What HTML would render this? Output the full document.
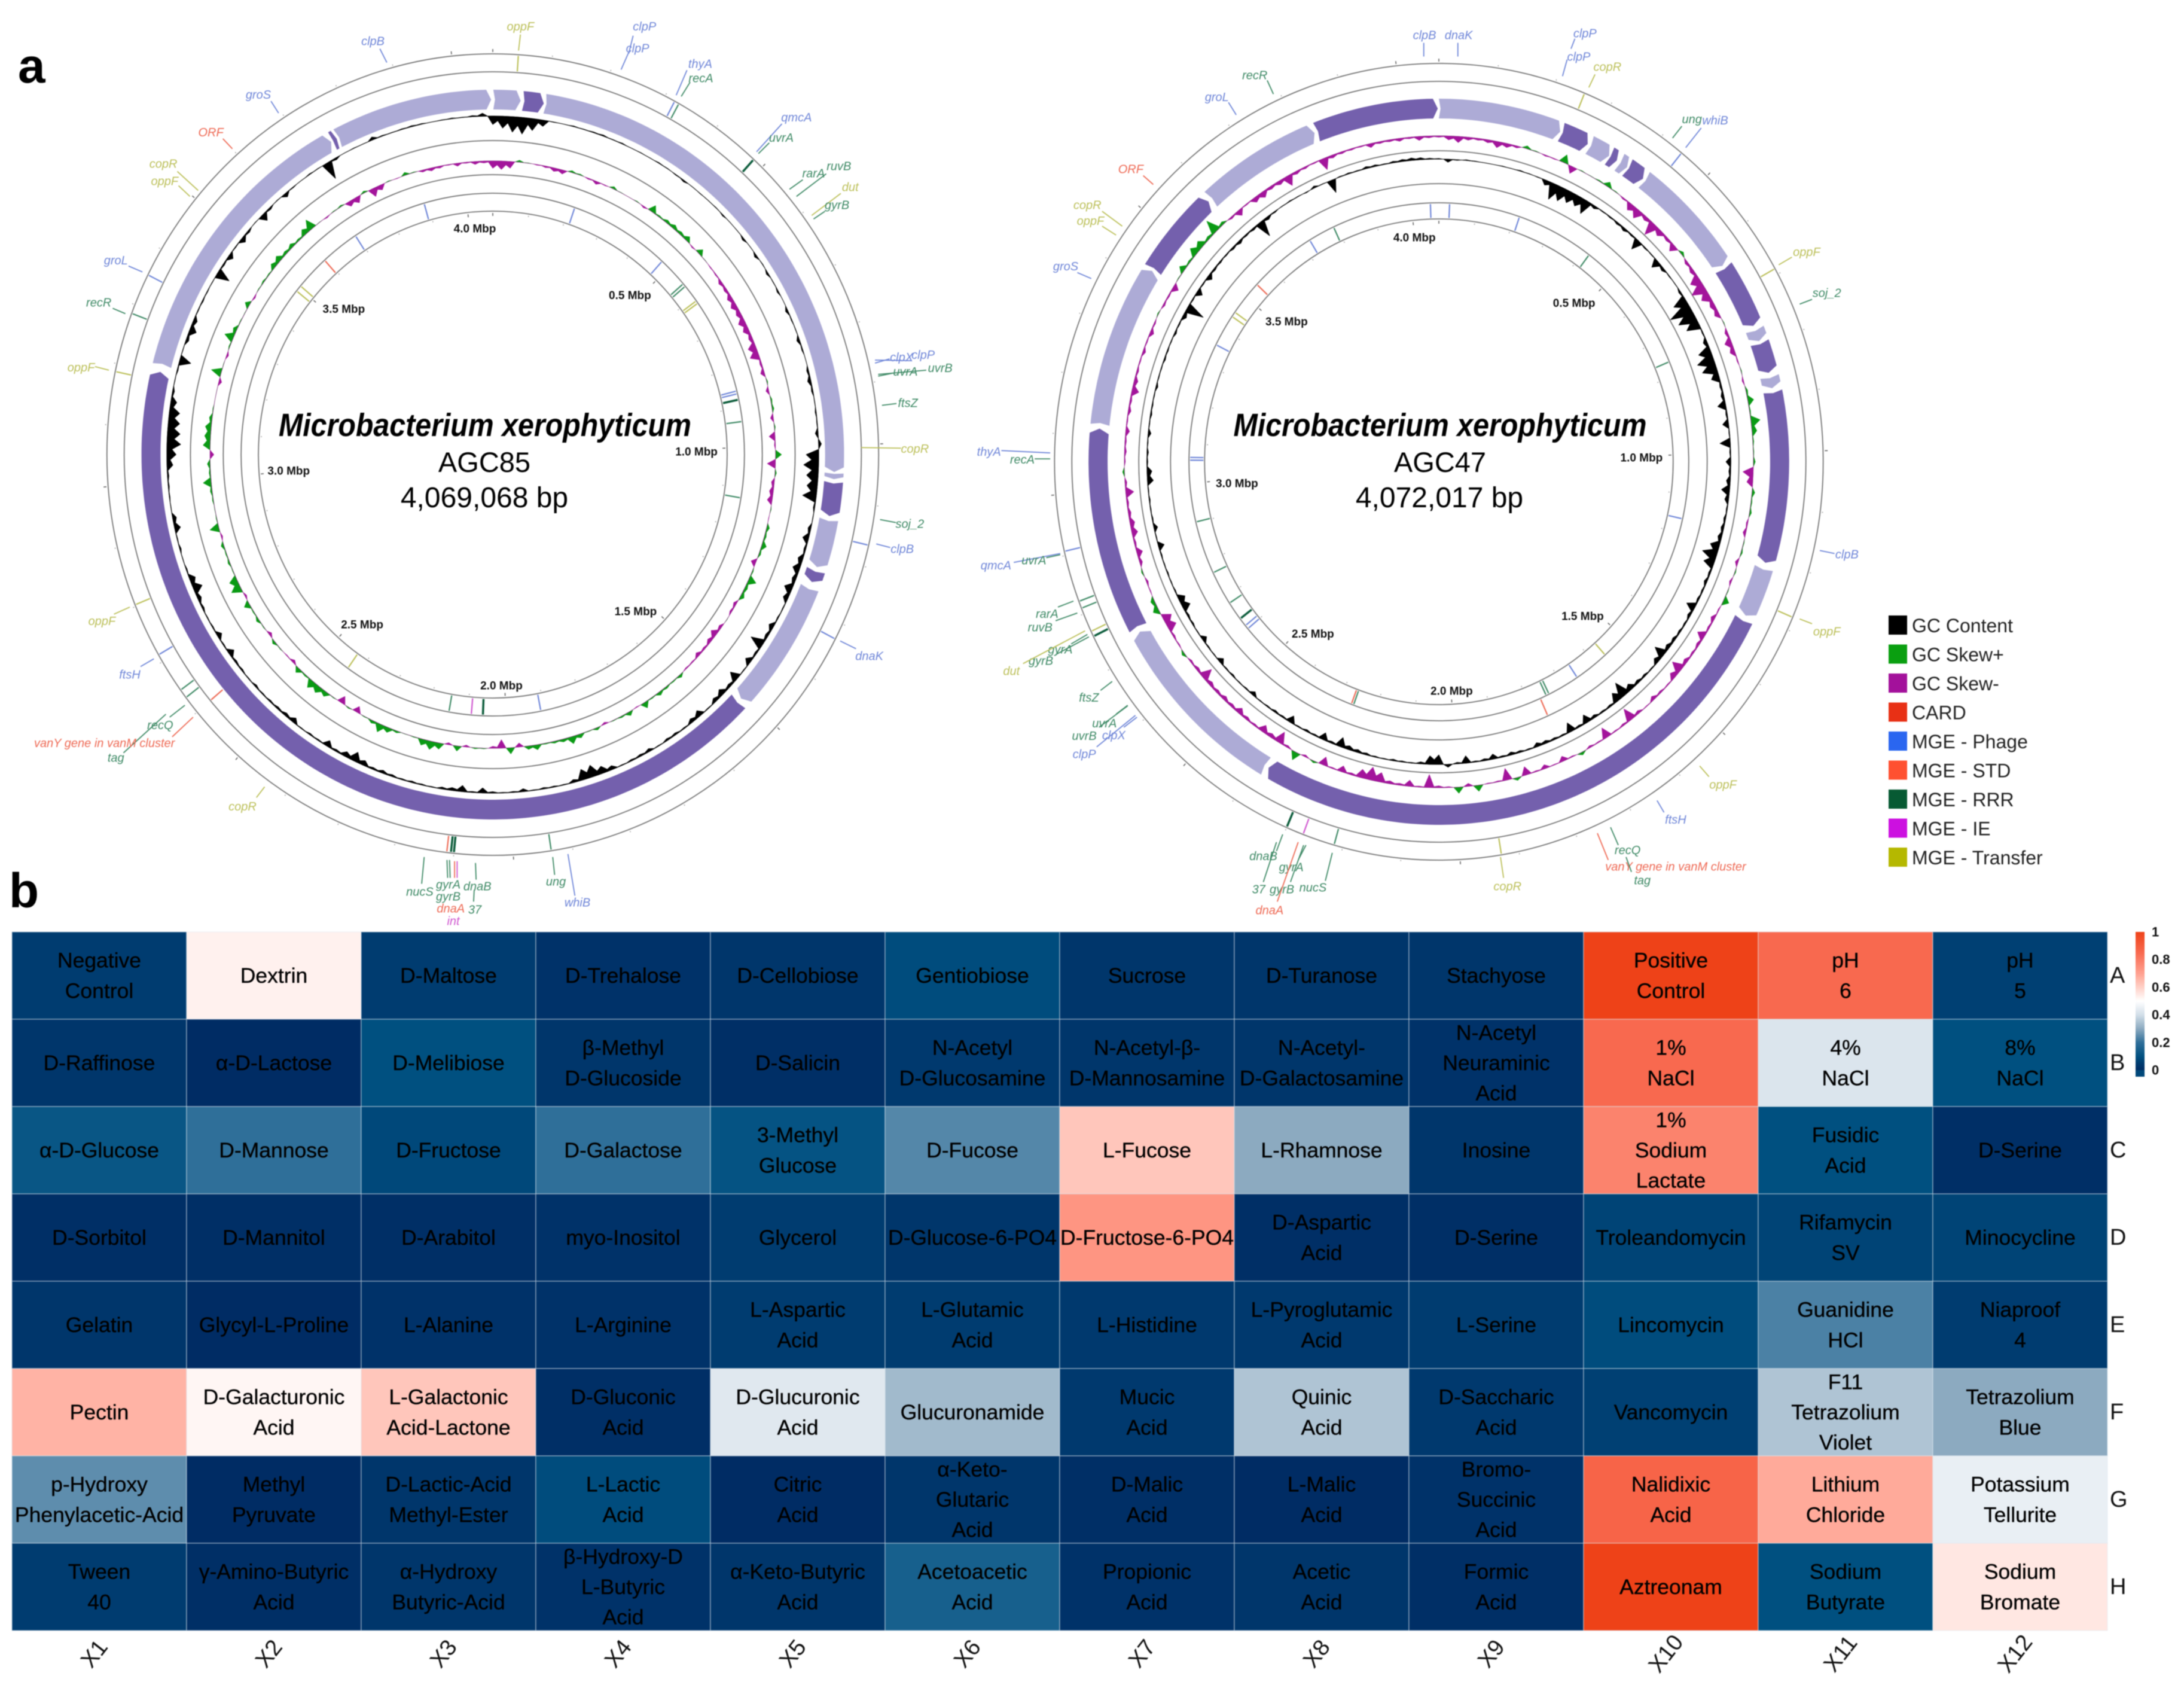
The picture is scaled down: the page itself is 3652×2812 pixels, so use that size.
<!DOCTYPE html>
<html lang="en">
<head>
<meta charset="utf-8">
<title>Microbacterium xerophyticum genome maps and phenotype heatmap</title>
<style>
html,body{margin:0;padding:0;background:#fff;width:3652px;height:2812px;overflow:hidden}
svg{display:block;font-family:"Liberation Sans",sans-serif;filter:blur(0.7px)}
</style>
</head>
<body>
<svg id="fig" xmlns="http://www.w3.org/2000/svg" width="3652" height="2812" viewBox="0 0 3652 2812">
  <text x="30" y="138" font-size="82" font-weight="700">a</text>
  <text x="15" y="1517" font-size="82" font-weight="700">b</text>
  <g id="map1">
    <text x="811" y="729" font-size="54" font-weight="700" font-style="italic" text-anchor="middle" textLength="690" lengthAdjust="spacingAndGlyphs">Microbacterium xerophyticum</text>
    <text x="810" y="789" font-size="47" text-anchor="middle">AGC85</text>
    <text x="810" y="848" font-size="48" text-anchor="middle">4,069,068 bp</text>
  </g>
  <g id="map2">
    <text x="2408" y="729" font-size="54" font-weight="700" font-style="italic" text-anchor="middle" textLength="691" lengthAdjust="spacingAndGlyphs">Microbacterium xerophyticum</text>
    <text x="2408" y="789" font-size="47" text-anchor="middle">AGC47</text>
    <text x="2407" y="848" font-size="48" text-anchor="middle">4,072,017 bp</text>
  </g>
  <g id="legend"></g>
  <g id="heat"></g>
  <g id="cbar"></g>
</svg>
<script>
/* ---------- Genome data: windows are evenly spaced around each chromosome ---------- */
const agc85Length = 4.069068;
const agc47Length = 4.072017;
const agc85MbpTicks = ["0.5 Mbp","1.0 Mbp","1.5 Mbp","2.0 Mbp","2.5 Mbp","3.0 Mbp","3.5 Mbp","4.0 Mbp"];
const agc47MbpTicks = ["0.5 Mbp","1.0 Mbp","1.5 Mbp","2.0 Mbp","2.5 Mbp","3.0 Mbp","3.5 Mbp","4.0 Mbp"];

const agc85GcContent = [
-18,-24,-30,-32,-24,-14,-2,1,3,2,
3,4,2,3,1,2,1,3,2,-3,
-5,1,-2,1,2,-4,1,-1,-6,1,
-7,2,-6,-2,-5,1,-7,-3,-2,-8,
-4,-1,-6,-9,-5,-2,-4,-3,-8,8,
-26,-30,-24,-22,-28,-5,-2,-8,-14,-6,
-12,-16,-10,-18,-12,-3,-4,-12,-8,-28,
-6,-14,-3,-20,-8,-14,-10,-3,-14,-10,
-4,-6,-6,-3,-8,-6,-5,-3,-10,-16,
-24,-22,-8,-3,-4,-5,-3,-8,-4,-3,
-5,-12,-4,-14,-8,-6,-3,-4,-5,-4,
-6,-8,-6,-12,-20,-12,-6,-14,-4,-5,
-3,-12,-8,-6,-5,-4,-6,-3,-5,-6,
-14,-4,-12,-4,-3,-6,-10,-20,-14,-4,
-2,-5,-3,-14,-10,-2,-3,-4,-5,-14,
-20,-28,-26,-24,-22,-14,-6,-2,-4,-24,
-2,-8,-16,-10,-3,-4,-3,-2,-28,-5,
-12,-3,-12,-6,2,-16,-6,2,-10,-3,
1,3,2,-34,-6,1,2,1,8,3,
2,3,4,3,1,2,3,2,4,8];

const agc85GcSkew = [
-16,-18,-15,6,2,-3,-5,-9,-10,6,
4,-4,-8,-3,7,2,1,3,-5,16,
5,8,10,8,12,-4,13,2,-3,-4,
-9,-8,-12,-14,-12,-16,-14,-10,-18,-20,
-6,-10,4,-8,5,6,-8,4,-14,-4,
14,-18,5,-8,-10,-12,3,-2,8,6,
12,6,-12,4,18,8,10,-8,-6,2,
-8,-15,-10,-6,-10,-4,-4,8,4,6,
9,4,14,-3,10,5,3,-6,7,3,
10,16,8,6,4,12,9,-10,14,-18,
-6,3,4,-6,12,-6,14,18,14,3,
2,6,12,18,8,3,-14,4,-16,3,
12,16,18,5,12,-8,-3,3,8,-8,
3,8,4,14,-6,22,18,3,6,4,
8,-5,20,3,2,4,6,18,5,8,
-10,16,14,14,8,3,1,1,-8,22,
2,-6,4,20,10,3,2,12,-5,3,
5,4,12,14,8,10,6,14,22,2,
-4,3,5,-12,-14,6,-18,-12,3,-2,
8,3,-6,-8,-6,-3,-8,-4,-8,-6];

const agc47GcContent = [
3,-8,-3,3,2,1,0,2,1,3,
2,-2,-12,-32,-28,-24,-22,-28,-8,-3,
-4,-6,-8,-5,-22,-4,-3,-18,-8,-3,
-2,-6,-28,-44,-36,-28,-4,-10,-26,-34,
-30,-18,-6,-8,-18,-5,-14,-3,-22,-4,
-12,-6,-10,-18,-10,-4,-6,-8,-10,-20,
-30,-22,-6,-8,-5,-6,-20,-8,-5,-6,
-8,-10,-24,-12,-4,-6,-8,-14,-30,-20,
-6,-5,-8,-18,-6,-20,-5,-6,-8,-10,
-4,-6,-8,-5,-12,-6,-4,-16,-5,8,
-20,-18,-6,-3,-4,-5,-3,-4,-6,-8,
-10,-20,-6,-16,-5,-6,-4,-16,-5,-6,
-4,-3,-10,-4,-3,-5,-4,-12,-3,-4,
-12,-3,-5,-6,-18,-16,-4,-3,-4,-3,
-4,-14,-3,-10,-4,-3,-4,-3,-14,-12,
-4,-5,-3,-8,-3,-5,-4,-3,-6,-3,
-3,-5,-4,-3,-6,-4,-10,-36,-4,-14,
-4,-12,-6,-5,-4,-6,-8,-5,-6,-32,
-8,-4,2,3,2,-3,6,2,-26,3,
4,3,6,5,3,5,6,7,6,4];

const agc47GcSkew = [
-5,-10,-14,-8,-6,-8,-14,-10,-6,8,
3,-4,-3,18,-16,3,2,4,12,3,
-5,-16,-20,-10,-28,-14,-8,-16,8,-8,
-10,-22,-30,-20,-12,-12,3,-8,-16,-12,
-4,3,-5,6,14,4,20,12,4,3,
6,-22,-14,8,4,6,-5,-8,3,5,
-8,4,-6,3,14,-4,-10,-6,-18,-8,
-6,-10,-24,-14,-4,-6,-10,-3,-8,-26,
-6,-4,-22,-4,-6,8,-4,-12,-3,-10,
-4,-18,8,-24,-4,-3,14,-8,14,-4,
-6,-26,-4,-14,-6,-8,-20,-26,-18,-6,
-14,-4,-18,6,-6,18,-6,-24,-10,-16,
-6,-8,-14,-8,-10,-8,-10,-24,-8,-6,
8,-4,-6,-20,-20,14,10,-3,-6,5,
-8,-14,-6,-14,-12,-8,-6,-18,-6,6,
-4,-6,-5,-10,-4,-8,-6,-16,-10,-6,
-4,-8,-4,-10,-5,4,-6,-5,-14,3,
14,6,18,16,8,28,8,-6,-14,-4,
-12,-14,-8,-10,-22,-8,-6,-4,-24,-8,
-6,-5,-4,-10,-6,-6,-8,-5,-10,-6];

/* contig start (Mbp), end (Mbp), shade: 1 = dark, 0 = light */
const agc85ContigStart = [0.001,0.057,0.099,1.051,1.067,1.136,1.232,1.266,1.515,3.216,3.753,3.764];
const agc85ContigEnd   = [0.053,0.097,1.049,1.062,1.130,1.226,1.255,1.508,3.204,3.750,3.762,4.066];
const agc85ContigDark  = [0,1,0,0,1,0,1,0,1,0,1,0];
const agc47ContigStart = [0.000,0.238,0.297,0.340,0.362,0.380,0.419,0.641,0.769,0.795,0.860,0.888,1.216,1.318,2.381,2.737,3.122,3.427,3.597,3.834];
const agc47ContigEnd   = [0.236,0.293,0.339,0.356,0.379,0.416,0.637,0.762,0.792,0.853,0.882,1.206,1.310,2.375,2.729,3.115,3.424,3.591,3.830,4.070];
const agc47ContigDark  = [0,1,0,1,0,1,0,1,0,1,0,1,0,1,0,1,0,1,0,1];

/* annotated features: position (Mbp), track (0 = outer, 1 = gene gap, 2 = ring 1-2, 3 = ring 2-3), class */
const agc85FeaturePos = [0.043,0.318,0.326,0.481,1.165,1.327,1.936,2.100,2.105,2.112,2.630,2.645,2.713,2.803,3.187,3.285,3.353,2.600,
 3.890,0.215,3.695,3.595,3.506,3.490,0.478,0.556,0.564,0.610,0.617,0.858,0.865,0.880,0.935,1.125,1.910,2.432,2.148,2.090,2.060];
const agc85FeatureTrack = [0,0,0,0,0,0,0,0,0,0,0,0,0,0,0,0,0,1,
 2,2,2,2,2,2,2,2,2,2,2,2,2,2,2,2,2,2,2,2,2];
const agc85FeatureClass = ["t","p","r","R","p","p","r","R","R","c","r","r","p","t","t","r","p","c",
 "p","p","p","c","t","t","p","r","r","t","t","p","p","R","r","r","p","t","r","i","R"];

const agc47FeaturePos = [4.050,0.028,0.213,0.418,0.761,3.790,3.720,3.543,3.453,3.440,3.358,3.058,3.065,2.902,2.767,2.680,2.632,2.610,2.600,1.162,1.564,1.656,1.740,1.748,2.262,2.268,
 1.765,2.907,2.822,2.810,2.769,2.760,2.300,2.270,2.215,1.930,0.443,0.252,0.690,1.278];
const agc47FeatureTrack = [2,2,2,2,2,2,2,2,2,2,2,2,2,2,2,2,2,2,2,2,2,2,2,2,2,2,
 3,0,0,0,0,0,0,0,0,0,0,0,0,0];
const agc47FeatureClass = ["p","p","p","r","r","r","p","c","t","t","p","p","p","r","r","r","R","p","p","p","t","p","r","r","r","c",
 "c","p","r","r","t","R","R","i","r","t","p","t","t","t"];

/* gene labels: text, class */
const agc85GeneNames = ["clpB","oppF","clpP","clpP","thyA","recA","qmcA","uvrA","rarA","ruvB","dut","gyrB","clpX","clpP","uvrA","uvrB","ftsZ","copR","soj_2","clpB","dnaK","whiB","ung","dnaB","37","gyrA","gyrB","dnaA","int","nucS","copR","tag","vanY gene in vanM cluster","recQ","ftsH","oppF","oppF","recR","groL","oppF","copR","ORF","groS"];
const agc85GeneClass = ["p","t","p","p","p","r","p","r","r","r","t","r","p","p","r","r","r","t","r","p","p","p","r","r","r","r","r","c","i","r","t","r","c","r","p","t","t","r","p","t","t","c","p"];
const agc47GeneNames = ["clpB","dnaK","clpP","clpP","copR","ung","whiB","oppF","soj_2","clpB","oppF","oppF","ftsH","recQ","vanY gene in vanM cluster","tag","copR","nucS","gyrB","37","dnaB","gyrA","dnaA","ftsZ","uvrA","uvrB","clpX","clpP","gyrA","gyrB","dut","ruvB","rarA","qmcA","uvrA","thyA","recA","groS","oppF","copR","ORF","groL","recR"];
const agc47GeneClass = ["p","p","p","p","t","r","p","t","r","p","t","t","p","r","c","r","t","r","r","r","r","r","c","r","r","r","p","p","r","r","t","r","r","p","r","p","r","p","t","t","c","p","r"];

/* ---------- Layout (not data) ---------- */
const map1Layout = {cx:824,cy:760,k:0.963,rings:[670,640,525,468,437,407],geneOut:610,geneIn:577,gcBase:566,skewBase:491,
  sx:1.0587,sy:0.995,ox:0,oy:0,
  tracks:[[642,668],[612,638],[409,435],[439,466]],
  mbpAt:[[995,497],[1100,760],[1004,1028],[792,1153],[572,1050],[456,792],[543,520],[750,385]],
  textAt:[[589,70],[822,45],[1018,45],[1007,82],[1106,108],[1107,132],[1258,198],[1234,232],[1285,292],[1325,280],[1343,315],[1322,345],[1424,601],[1458,597],[1430,625],[1485,619],[1434,678],[1445,755],[1437,881],[1425,923],[1373,1103],[912,1517],[878,1482],[754,1490],[750,1529],[708,1487],[708,1507],[712,1527],[716,1548],[663,1499],[383,1356],[183,1274],[165,1249],[253,1219],[205,1134],[161,1044],[128,618],[156,509],[183,438],[260,305],[258,276],[333,223],[408,160]],
  leaderAt:[[600,82,611,105],[822,58,819,85],[1000,60,993,90],[993,88,981,117],[1085,118,1068,160],[1090,138,1076,162],[1235,208,1195,255],[1215,240,1198,258],[1268,302,1247,318],[1305,292,1258,330],[1328,325,1282,362],[1303,355,1285,368],[1405,603,1382,610],[1440,606,1382,605],[1410,627,1387,632],[1463,622,1387,629],[1416,678,1393,681],[1423,753,1360,752],[1415,878,1390,873],[1406,920,1384,914],[1352,1090,1327,1077],[908,1505,897,1435],[876,1470,873,1440],[752,1478,751,1450],[748,1515,749,1495],[711,1475,710,1445],[707,1475,706,1445],[718,1475,718,1447],[722,1475,722,1447],[666,1485,670,1440],[405,1340,418,1322],[195,1265,262,1200],[272,1238,305,1205],[268,1205,292,1185],[222,1120,243,1107],[180,1032,205,1020],[150,616,172,622],[178,518,198,527],[203,447,225,457],[282,312,300,330],[280,288,313,320],[352,233,367,250],[428,170,440,190]]
};
const map2Layout = {cx:2406,cy:772,k:0.965,rings:[666,636,520,465,433,406],geneOut:607,geneIn:574,gcBase:506,skewBase:545,
  sx:1.296,sy:0.995,ox:1620,oy:0,
  tracks:[[638,664],[609,634],[408,431],[435,463]],
  mbpAt:[[781,510],[868,770],[792,1036],[623,1162],[444,1066],[346,813],[410,541],[575,400]],
  textAt:[[588,60],[632,60],[795,57],[787,96],[824,113],[933,201],[963,203],[1081,424],[1107,493],[1133,932],[1107,1062],[973,1319],[912,1378],[850,1429],[912,1457],[869,1480],[695,1490],[444,1492],[404,1495],[374,1495],[380,1439],[416,1458],[388,1530],[155,1173],[175,1216],[149,1237],[187,1236],[149,1268],[118,1092],[93,1111],[55,1128],[92,1055],[101,1032],[35,951],[84,942],[26,760],[69,773],[125,448],[157,372],[153,345],[209,285],[320,164],[369,127]],
  leaderAt:[[587,72,587,95],[631,72,631,95],[782,65,777,82],[772,100,766,128],[808,125,800,147],[920,212,908,232],[945,215,925,248],[1062,432,1045,445],[1088,503,1072,511],[1117,930,1098,925],[1088,1048,1072,1040],[955,1305,943,1287],[897,1365,888,1345],[838,1420,828,1390],[825,1445,811,1400],[855,1465,848,1440],[690,1475,686,1440],[460,1480,469,1433],[415,1482,432,1420],[380,1482,397,1415],[397,1430,405,1402],[425,1445,435,1420],[398,1515,425,1415],[170,1160,185,1145],[190,1200,205,1185],[168,1222,205,1186],[200,1222,217,1205],[165,1255,215,1202],[132,1082,153,1066],[112,1100,155,1070],[70,1115,150,1060],[112,1043,140,1030],[115,1020,135,1010],[58,945,118,930],[100,937,118,932],[42,757,105,761],[85,771,105,771],[140,458,158,468],[172,380,190,395],[172,355,198,380],[225,295,238,310],[335,172,345,193],[385,135,393,158]]
};

const classColor = {p:"#6f86d8",r:"#3f8a66",R:"#0d5d3c",t:"#bcc05a",c:"#ee6a55",i:"#cf55cf"};

const NS = "http://www.w3.org/2000/svg";
function mk(parent, tag, attrs, text){
  const el = document.createElementNS(NS, tag);
  for (const key in attrs) el.setAttribute(key, attrs[key]);
  if (text !== undefined) el.textContent = text;
  parent.appendChild(el);
  return el;
}

/* ---------- Genome axis functions ---------- */
function angleOf(mbp, len){ return mbp / len * 2 * Math.PI; }
function polar(L, ry, a){ return [L.cx + ry * L.k * Math.sin(a), L.cy - ry * Math.cos(a)]; }
function f(p){ return p[0].toFixed(1) + " " + p[1].toFixed(1); }

function windowAngle(i, n){ return i / n * 2 * Math.PI; }

/* radial axis: small window values stay close to the baseline, peaks keep their height */
function radial(v){ return v * Math.abs(v) / (Math.abs(v) + 5); }

function areaPath(L, base, vals, pick){
  const n = vals.length;
  const outer = [], inner = [];
  for (let i = 0; i <= n; i++){
    const here = radial(pick(vals[i % n]));
    const next = radial(pick(vals[(i + 1) % n]));
    const a = windowAngle(i, n);
    outer.push(f(polar(L, base + here, a)));
    inner.unshift(f(polar(L, base, a)));
    if (i < n){
      const dip = (Math.abs(here) < Math.abs(next) ? here : next) * 0.55;
      outer.push(f(polar(L, base + dip, windowAngle(i + 0.5, n))));
    }
  }
  return "M" + outer.join("L") + "L" + inner.join("L") + "Z";
}

function contigPath(L, len, s, e){
  const a0 = angleOf(s, len), a1 = angleOf(e, len);
  const span = a1 - a0;
  const tip = Math.min(0.8 * Math.PI / 180, span * 0.4);
  const mid = (L.geneOut + L.geneIn) / 2;
  const pts = [];
  const steps = Math.max(2, Math.ceil(span / (Math.PI / 180)));
  for (let i = 0; i <= steps; i++) pts.push(polar(L, L.geneOut, a0 + (span - tip) * i / steps));
  pts.push(polar(L, mid, a1));
  for (let i = steps; i >= 0; i--) pts.push(polar(L, L.geneIn, a0 + (span - tip) * i / steps));
  pts.push(polar(L, mid, a0 + tip * 0.35));
  return "M" + pts.map(f).join("L") + "Z";
}

function drawMap(root, L, len, gc, skew, cStart, cEnd, cDark, fPos, fTrack, fClass, geneNames, geneClass, mbpTicks, tag){
  /* rings */
  L.rings.forEach(function(r, i){
    const ring = mk(root, "ellipse", {cx:L.cx, cy:L.cy, rx:r * L.k, ry:r, fill:"none", stroke:"#777", "stroke-width":1.8});
    
    
  });
  /* scale ticks every 0.1 Mbp */
  for (let m = 0; m < len - 0.02; m += 0.1){
    const a = angleOf(m, len);
    const major = Math.round(m * 10) % 5 === 0;
    const p1 = polar(L, L.rings[5] - 3, a), p2 = polar(L, L.rings[5] - (major ? 8 : 5), a);
    const t1 = mk(root, "line", {x1:p1[0], y1:p1[1], x2:p2[0], y2:p2[1], stroke:major ? "#666" : "#aaa", "stroke-width":1.6});
    
    
    const p3 = polar(L, L.rings[0] + 3, a), p4 = polar(L, L.rings[0] + (major ? 8 : 5), a);
    const t2 = mk(root, "line", {x1:p3[0], y1:p3[1], x2:p4[0], y2:p4[1], stroke:major ? "#666" : "#aaa", "stroke-width":1.6});
    
    
  }
  /* contigs */
  cStart.forEach(function(s, i){
    const c = mk(root, "path", {d:contigPath(L, len, s, cEnd[i]), fill:cDark[i] ? "#7460ad" : "#adabd6"});
    
    
  });
  /* GC content */
  const gcUp = mk(root, "path", {d:areaPath(L, L.gcBase, gc, function(v){return Math.max(v, 0);}), fill:"#000", stroke:"#000", "stroke-width":0.8, "stroke-linejoin":"round"});
  
  
  const gcDown = mk(root, "path", {d:areaPath(L, L.gcBase, gc, function(v){return Math.min(v, 0);}), fill:"#000", stroke:"#000", "stroke-width":0.8, "stroke-linejoin":"round"});
  
  
  /* GC skew */
  const skPlus = mk(root, "path", {d:areaPath(L, L.skewBase, skew, function(v){return Math.max(v, 0);}), fill:"#0a9a14", stroke:"#0a9a14", "stroke-width":0.6, "stroke-linejoin":"round"});
  
  
  const skMinus = mk(root, "path", {d:areaPath(L, L.skewBase, skew, function(v){return Math.min(v, 0);}), fill:"#a3149b", stroke:"#a3149b", "stroke-width":0.6, "stroke-linejoin":"round"});
  
  
  /* features */
  fPos.forEach(function(m, i){
    const a = angleOf(m, len), tr = L.tracks[fTrack[i]];
    const p1 = polar(L, tr[0], a), p2 = polar(L, tr[1], a);
    const ft = mk(root, "line", {x1:p1[0], y1:p1[1], x2:p2[0], y2:p2[1], stroke:classColor[fClass[i]], "stroke-width":fClass[i] === "R" ? 3.5 : 2.2});
    
    
  });
  /* Mbp labels */
  mbpTicks.forEach(function(t, i){
    const at = L.mbpAt[i];
    const lab = mk(root, "text", {x:L.ox + at[0] * L.sx, y:L.oy + at[1] * L.sy, "font-size":19, "font-weight":700, "text-anchor":"middle", "dominant-baseline":"central", fill:"#111"}, t);
    
    
  });
  /* gene labels & leaders */
  geneNames.forEach(function(name, i){
    const col = classColor[geneClass[i]], at = L.textAt[i], ln = L.leaderAt[i];
    const leader = mk(root, "line", {x1:L.ox + ln[0] * L.sx, y1:L.oy + ln[1] * L.sy, x2:L.ox + ln[2] * L.sx, y2:L.oy + ln[3] * L.sy, stroke:col, "stroke-width":1.8});
    
    
    const lab = mk(root, "text", {x:L.ox + at[0] * L.sx, y:L.oy + at[1] * L.sy, "font-size":20, "font-style":"italic", "text-anchor":"middle", "dominant-baseline":"central", fill:col}, name);
    
    
  });
}

drawMap(document.getElementById("map1"), map1Layout, agc85Length, agc85GcContent, agc85GcSkew, agc85ContigStart, agc85ContigEnd, agc85ContigDark, agc85FeaturePos, agc85FeatureTrack, agc85FeatureClass, agc85GeneNames, agc85GeneClass, agc85MbpTicks, "agc85");
drawMap(document.getElementById("map2"), map2Layout, agc47Length, agc47GcContent, agc47GcSkew, agc47ContigStart, agc47ContigEnd, agc47ContigDark, agc47FeaturePos, agc47FeatureTrack, agc47FeatureClass, agc47GeneNames, agc47GeneClass, agc47MbpTicks, "agc47");

/* ---------- Legend ---------- */
const legendLabels = ["GC Content","GC Skew+","GC Skew-","CARD","MGE - Phage","MGE - STD","MGE - RRR","MGE - IE","MGE - Transfer"];
const legendColors = ["#000000","#0a9f10","#a3119b","#e83015","#2a66f0","#ff5030","#075a33","#cc10e0","#b5b800"];
const legendRoot = document.getElementById("legend");
legendLabels.forEach(function(t, i){
  const y = 1045 + i * 48.5;
  const sw = mk(legendRoot, "rect", {x:3158, y:y - 16, width:31, height:32, fill:legendColors[i]});
  
  
  const tx = mk(legendRoot, "text", {x:3197, y:y + 1, "font-size":32, "dominant-baseline":"central", fill:"#222"}, t);
  
  
});

/* ---------- Heatmap data ---------- */
const heatRowsLabels = ["A","B","C","D","E","F","G","H"];
const heatColLabels = ["X1","X2","X3","X4","X5","X6","X7","X8","X9","X10","X11","X12"];
const heatValues = [
 [0.05,0.53,0.05,0.02,0.03,0.09,0.03,0.03,0.03,1.00,0.85,0.06],
 [0.03,0.00,0.10,0.03,0.01,0.04,0.03,0.03,0.02,0.85,0.42,0.10],
 [0.12,0.20,0.08,0.20,0.11,0.24,0.62,0.30,0.03,0.78,0.10,0.01],
 [0.01,0.01,0.01,0.02,0.05,0.03,0.73,0.01,0.01,0.07,0.07,0.07],
 [0.03,0.00,0.02,0.02,0.05,0.05,0.04,0.04,0.05,0.09,0.23,0.05],
 [0.66,0.52,0.62,0.01,0.43,0.33,0.04,0.35,0.04,0.06,0.35,0.30],
 [0.25,0.00,0.03,0.09,0.00,0.03,0.01,0.00,0.02,0.87,0.68,0.45],
 [0.05,0.01,0.03,0.02,0.03,0.15,0.02,0.03,0.01,1.00,0.10,0.55]];
const heatLabels = [
 ["Negative|Control","Dextrin","D-Maltose","D-Trehalose","D-Cellobiose","Gentiobiose","Sucrose","D-Turanose","Stachyose","Positive|Control","pH|6","pH|5"],
 ["D-Raffinose","α-D-Lactose","D-Melibiose","β-Methyl|D-Glucoside","D-Salicin","N-Acetyl|D-Glucosamine","N-Acetyl-β-|D-Mannosamine","N-Acetyl-|D-Galactosamine","N-Acetyl|Neuraminic|Acid","1%|NaCl","4%|NaCl","8%|NaCl"],
 ["α-D-Glucose","D-Mannose","D-Fructose","D-Galactose","3-Methyl|Glucose","D-Fucose","L-Fucose","L-Rhamnose","Inosine","1%|Sodium|Lactate","Fusidic|Acid","D-Serine"],
 ["D-Sorbitol","D-Mannitol","D-Arabitol","myo-Inositol","Glycerol","D-Glucose-6-PO4","D-Fructose-6-PO4","D-Aspartic|Acid","D-Serine","Troleandomycin","Rifamycin|SV","Minocycline"],
 ["Gelatin","Glycyl-L-Proline","L-Alanine","L-Arginine","L-Aspartic|Acid","L-Glutamic|Acid","L-Histidine","L-Pyroglutamic|Acid","L-Serine","Lincomycin","Guanidine|HCl","Niaproof|4"],
 ["Pectin","D-Galacturonic|Acid","L-Galactonic|Acid-Lactone","D-Gluconic|Acid","D-Glucuronic|Acid","Glucuronamide","Mucic|Acid","Quinic|Acid","D-Saccharic|Acid","Vancomycin","F11|Tetrazolium|Violet","Tetrazolium|Blue"],
 ["p-Hydroxy|Phenylacetic-Acid","Methyl|Pyruvate","D-Lactic-Acid|Methyl-Ester","L-Lactic|Acid","Citric|Acid","α-Keto-|Glutaric|Acid","D-Malic|Acid","L-Malic|Acid","Bromo-|Succinic|Acid","Nalidixic|Acid","Lithium|Chloride","Potassium|Tellurite"],
 ["Tween|40","γ-Amino-Butyric|Acid","α-Hydroxy|Butyric-Acid","β-Hydroxy-D|L-Butyric|Acid","α-Keto-Butyric|Acid","Acetoacetic|Acid","Propionic|Acid","Acetic|Acid","Formic|Acid","Aztreonam","Sodium|Butyrate","Sodium|Bromate"]];
const colorbarTicks = ["0","0.2","0.4","0.6","0.8","1"];

/* ---------- Heatmap axis + colour functions ---------- */
const heatLeft = 20, heatTop = 1558, colW = 292, rowH = 146;
function xBand(c){ return heatLeft + c * colW; }
function yBand(r){ return heatTop + r * rowH; }
const colorStops = [[0,[0,44,100]],[0.05,[0,60,112]],[0.1,[0,80,128]],[0.2,[47,111,153]],[0.3,[140,170,192]],[0.4,[210,222,232]],[0.5,[255,255,255]],[0.6,[255,208,198]],[0.7,[255,160,143]],[0.85,[248,105,79]],[1,[238,66,24]]];
function heatColor(v){
  const t = Math.max(0, Math.min(1, v));
  for (let i = 1; i < colorStops.length; i++){
    if (t <= colorStops[i][0]){
      const a = colorStops[i - 1], b = colorStops[i], u = (t - a[0]) / (b[0] - a[0]);
      return "rgb(" + [0,1,2].map(function(j){ return Math.round(a[1][j] + (b[1][j] - a[1][j]) * u); }).join(",") + ")";
    }
  }
  return "rgb(238,66,24)";
}

const heatRoot = document.getElementById("heat");
heatValues.forEach(function(row, r){
  row.forEach(function(v, c){
    const cell = mk(heatRoot, "rect", {x:xBand(c), y:yBand(r), width:colW, height:rowH, fill:heatColor(v), stroke:"rgba(225,232,240,0.45)", "stroke-width":1.5});
    
    
  });
});
heatLabels.forEach(function(row, r){
  row.forEach(function(label, c){
    const lines = label.split("|");
    lines.forEach(function(line, i){
      const y = yBand(r) + rowH / 2 + (i - (lines.length - 1) / 2) * 50.6;
      const tx = mk(heatRoot, "text", {x:xBand(c) + colW / 2, y:y, "font-size":35.5, "text-anchor":"middle", "dominant-baseline":"central", fill:"#000", stroke:"#000", "stroke-width":0.35}, line);
      
      
    });
  });
});
heatRowsLabels.forEach(function(t, r){
  const tx = mk(heatRoot, "text", {x:3528, y:yBand(r) + rowH / 2, "font-size":38, "dominant-baseline":"central", fill:"#111"}, t);
  
  
});
heatColLabels.forEach(function(t, c){
  const x = xBand(c) + colW / 2 - 8, y = 2765;
  const tx = mk(heatRoot, "text", {x:x, y:y, "font-size":38, "text-anchor":"middle", "dominant-baseline":"central", fill:"#111", transform:"rotate(-52 " + x + " " + y + ")"}, t);
  
  
});

/* ---------- Colour bar ---------- */
const cbarRoot = document.getElementById("cbar");
const defs = mk(cbarRoot, "defs", {});
const grad = mk(defs, "linearGradient", {id:"cbarGrad", x1:0, y1:1, x2:0, y2:0});
colorStops.forEach(function(s){
  mk(grad, "stop", {offset:s[0], "stop-color":heatColor(s[0])});
});
function cbarY(v){ return 1789 - v * 231; }
const barLow = mk(cbarRoot, "rect", {x:3571, y:cbarY(0), width:15, height:11, fill:heatColor(0.08)});


const bar = mk(cbarRoot, "rect", {x:3571, y:cbarY(1), width:15, height:cbarY(0) - cbarY(1), fill:"url(#cbarGrad)"});


colorbarTicks.forEach(function(t){
  const tx = mk(cbarRoot, "text", {x:3598, y:cbarY(parseFloat(t)), "font-size":22, "font-weight":700, "dominant-baseline":"central", fill:"#111"}, t);
  
  
});
</script>
</body>
</html>
